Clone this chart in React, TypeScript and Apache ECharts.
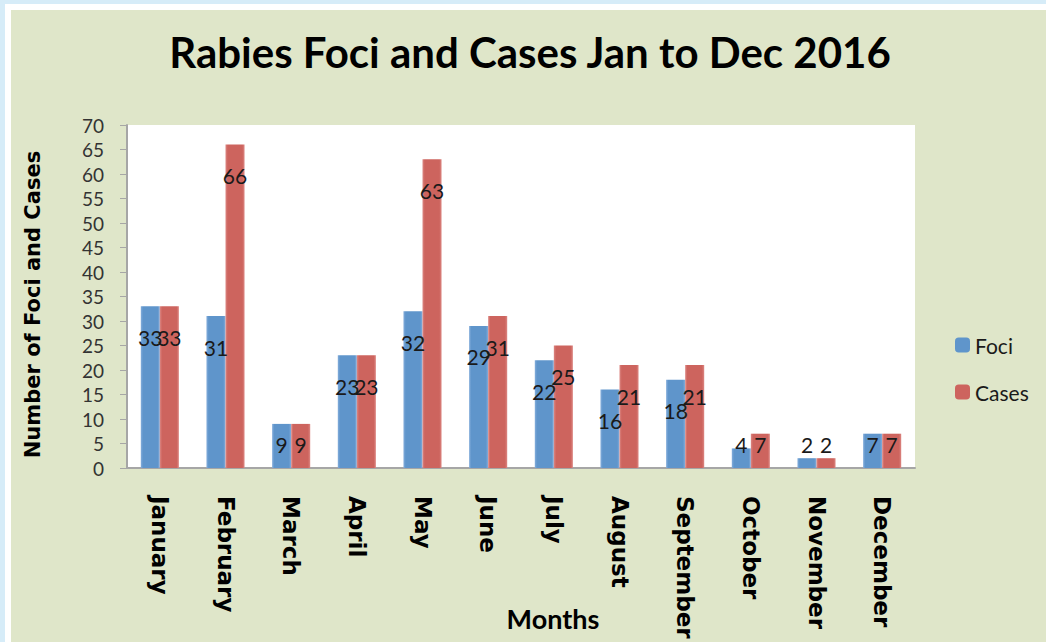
import React, { useEffect, useRef } from "react";
import * as echarts from "echarts";

const months = ["January", "February", "March", "April", "May", "June", "July", "August", "September", "October", "November", "December"];
const foci = [33, 31, 9, 23, 32, 29, 22, 16, 18, 4, 2, 7];
const cases = [33, 66, 9, 23, 63, 31, 25, 21, 21, 7, 2, 7];
const yTicks = { min: 0, max: 70, interval: 5 };

const BLUE = "#5f95cb";
const RED = "#cd645e";

function grad(edge: string, mid: string) {
  return new echarts.graphic.LinearGradient(0, 0, 1, 0, [
    { offset: 0, color: edge },
    { offset: 0.12, color: mid },
    { offset: 0.88, color: mid },
    { offset: 1, color: edge },
  ]);
}

function labelled(values: number[]) {
  return values.map((v) =>
    v <= 10
      ? { value: v, label: { position: "insideBottom", distance: 13 } }
      : { value: v, label: { position: "insideTop", distance: 20 } }
  );
}

export default function App() {
  const ref = useRef<HTMLDivElement>(null);
  useEffect(() => {
    if (!ref.current) return;
    const chart = echarts.init(ref.current, undefined, { renderer: "svg" });
    const valueLabel = {
      show: true,
      color: "#1a1a1a",
      fontFamily: "Lato",
      fontSize: 21,
      lineHeight: 22,
    };
    chart.setOption({
      animation: false,
      backgroundColor: "#d6ecf8",
      graphic: [
        { type: "rect", z: -100, shape: { x: 5, y: 4, width: 1041, height: 638 }, style: { fill: "#ffffff" } },
        { type: "rect", z: -99, shape: { x: 11, y: 10, width: 1035, height: 632 }, style: { fill: "#dfe6c9" } },
        {
          type: "text",
          x: 530,
          y: 52,
          style: {
            text: "Rabies Foci and Cases Jan to Dec 2016",
            fontFamily: "Lato",
            fontWeight: "bold",
            fontSize: 42,
            fill: "#000",
            align: "center",
            verticalAlign: "middle",
          },
        },
      ],
      legend: {
        orient: "vertical",
        left: 955,
        top: 334,
        padding: 0,
        itemWidth: 15,
        itemHeight: 15,
        itemGap: 25,
        textStyle: { fontFamily: "Lato", fontSize: 21, lineHeight: 22, color: "#1a1a1a" },
        data: [
          { name: "Foci", itemStyle: { color: BLUE } },
          { name: "Cases", itemStyle: { color: RED } },
        ],
      },
      grid: {
        left: 127,
        right: 131,
        top: 125,
        bottom: 174,
        show: true,
        backgroundColor: "#ffffff",
        borderWidth: 0,
        containLabel: false,
        outerBoundsMode: "none",
      },
      xAxis: {
        type: "category",
        data: months,
        name: "Months",
        nameLocation: "middle",
        nameGap: 137,
        nameMoveOverlap: false,
        nameTextStyle: {
          fontFamily: "Lato",
          fontWeight: "bold",
          fontSize: 27,
          color: "#000",
          padding: [0, 0, 0, 64],
        },
        axisLine: { show: true, lineStyle: { color: "#a6a6a6", width: 2 } },
        axisTick: { show: false },
        axisLabel: {
          rotate: -90,
          margin: 28,
          interval: 0,
          fontFamily: "DejaVu Sans",
          fontWeight: "bold",
          fontSize: 23,
          color: "#000",
        },
      },
      yAxis: {
        type: "value",
        min: yTicks.min,
        max: yTicks.max,
        interval: yTicks.interval,
        name: "Number of Foci and Cases",
        nameLocation: "middle",
        nameGap: 84,
        nameMoveOverlap: false,
        nameTextStyle: {
          fontFamily: "DejaVu Sans",
          fontWeight: "bold",
          fontSize: 21,
          color: "#000",
          padding: [0, 16, 0, 0],
        },
        axisLine: { show: true, lineStyle: { color: "#a6a6a6", width: 2 } },
        axisTick: { show: true, inside: false, length: 7, lineStyle: { color: "#a6a6a6" } },
        splitLine: { show: false },
        axisLabel: {
          margin: 23,
          fontFamily: "Lato",
          fontSize: 19,
          color: "#333",
        },
      },
      series: [
        {
          name: "Foci",
          type: "bar",
          data: labelled(foci),
          barGap: "0%",
          barCategoryGap: "42%",
          itemStyle: { color: grad("#84addb", BLUE) },
          label: valueLabel,
        },
        {
          name: "Cases",
          type: "bar",
          data: labelled(cases),
          barGap: "0%",
          barCategoryGap: "42%",
          itemStyle: { color: grad("#dc8783", RED) },
          label: valueLabel,
        },
      ],
    });
    return () => chart.dispose();
  }, []);
  return (
    <div
      ref={ref}
      style={{ position: "absolute", left: 0, top: 0, width: 1046, height: 642 }}
    />
  );
}
